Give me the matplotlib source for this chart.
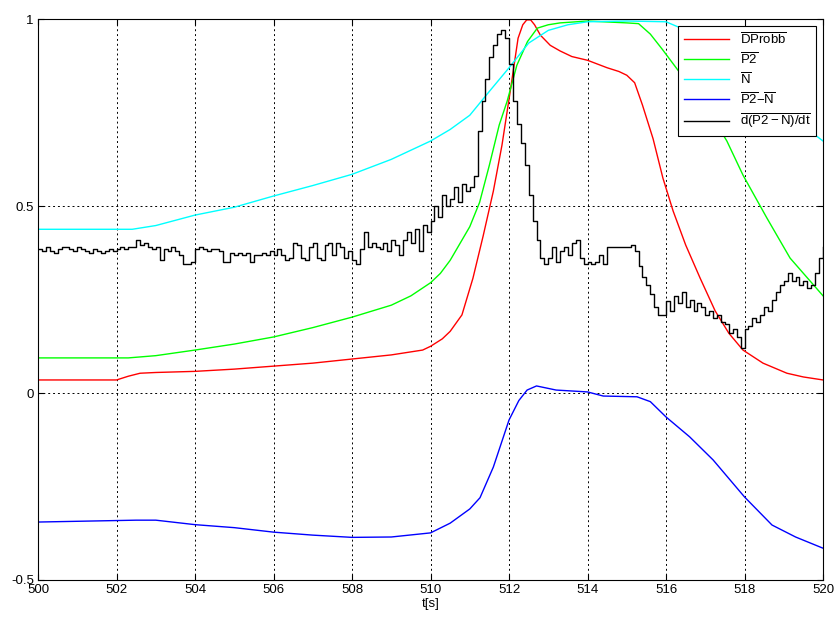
import numpy as np
import matplotlib
matplotlib.use("Agg")
import matplotlib.pyplot as plt

plt.rcParams['font.family'] = ['Liberation Sans', 'DejaVu Sans']
plt.rcParams['mathtext.fontset'] = 'custom'
plt.rcParams['mathtext.rm'] = 'Liberation Sans'
plt.rcParams['mathtext.it'] = 'Liberation Sans'
plt.rcParams['mathtext.sf'] = 'Liberation Sans'

# ---- data ----
t_red = [500, 502.0, 502.3, 502.6, 503, 504, 505, 506, 507, 508, 509, 509.8, 510, 510.3, 510.5,
         510.8, 511.08, 511.34, 511.6, 511.82, 512.03, 512.23, 512.35, 512.45, 512.55, 512.65, 512.8,
         513.05, 513.3, 513.6, 514.0, 514.5, 514.8, 515.0, 515.2, 515.4, 515.67, 515.92, 516.18,
         516.5, 516.87, 517.25, 517.6, 517.96, 518.47, 519.08, 519.5, 520]
dprobb = [0.035, 0.035, 0.045, 0.053, 0.055, 0.058, 0.064, 0.072, 0.080, 0.091, 0.102, 0.115, 0.125,
          0.145, 0.165, 0.209, 0.307, 0.42, 0.54, 0.663, 0.807, 0.949, 0.985, 0.998, 0.998, 0.985,
          0.957, 0.93, 0.915, 0.90, 0.89, 0.87, 0.86, 0.85, 0.83, 0.77, 0.68, 0.575, 0.487, 0.396,
          0.307, 0.22, 0.16, 0.115, 0.08, 0.053, 0.043, 0.035]

t_green = [500, 502.3, 503, 504, 505, 506, 507, 508, 509, 509.5, 510, 510.25, 510.5, 510.75, 511,
           511.25, 511.5, 511.75, 511.95, 512.2, 512.47, 512.72, 513.0, 513.3, 514, 515.0, 515.3,
           515.6, 515.9, 516.4, 517.2, 517.55, 517.96, 518.57, 519.16, 520]
p2 = [0.094, 0.094, 0.10, 0.115, 0.131, 0.15, 0.175, 0.203, 0.235, 0.26, 0.295, 0.32, 0.355, 0.40,
      0.445, 0.51, 0.61, 0.717, 0.78, 0.877, 0.94, 0.976, 0.985, 0.99, 0.995, 0.99, 0.988, 0.96,
      0.92, 0.85, 0.735, 0.674, 0.583, 0.468, 0.361, 0.26]

t_cyan = [500, 502.4, 503, 504, 505, 506, 507, 508, 509, 510, 510.5, 511, 511.5, 512, 512.5, 513,
          513.5, 514, 515, 516, 516.4, 517, 518, 519, 520]
n_bar = [0.438, 0.438, 0.448, 0.476, 0.497, 0.527, 0.555, 0.585, 0.625, 0.674, 0.705, 0.743, 0.807,
         0.87, 0.936, 0.97, 0.985, 0.993, 0.995, 0.993, 0.975, 0.93, 0.84, 0.755, 0.674]

t_blue = [500, 502.5, 503, 504, 505, 506, 507, 508, 509, 510, 510.5, 511, 511.26, 511.6, 512.0,
          512.25, 512.46, 512.7, 513.2, 514.0, 514.4, 515.26, 515.6, 516.0, 516.6, 517.2, 518.0,
          518.7, 519.3, 520]
p2_minus_n = [-0.345, -0.34, -0.34, -0.352, -0.36, -0.372, -0.38, -0.386, -0.385, -0.374, -0.348,
              -0.31, -0.28, -0.198, -0.072, -0.02, 0.008, 0.019, 0.008, 0.003, -0.008, -0.01, -0.023,
              -0.064, -0.117, -0.179, -0.278, -0.353, -0.385, -0.415]

t_black = np.linspace(500, 520, 201)
d_dt = [
    0.385, 0.38, 0.39, 0.38, 0.375, 0.385, 0.39, 0.39, 0.385, 0.38,
    0.39, 0.385, 0.38, 0.375, 0.385, 0.38, 0.375, 0.38, 0.385, 0.38,
    0.385, 0.39, 0.385, 0.39, 0.39, 0.41, 0.395, 0.40, 0.39, 0.385,
    0.39, 0.355, 0.385, 0.38, 0.39, 0.38, 0.37, 0.345, 0.345, 0.35,
    0.385, 0.39, 0.385, 0.38, 0.385, 0.385, 0.38, 0.35, 0.35, 0.375,
    0.37, 0.375, 0.37, 0.375, 0.35, 0.37, 0.37, 0.375, 0.37, 0.38,
    0.37, 0.385, 0.37, 0.355, 0.36, 0.40, 0.395, 0.36, 0.355, 0.39,
    0.40, 0.36, 0.355, 0.395, 0.40, 0.37, 0.40, 0.39, 0.36, 0.38,
    0.355, 0.345, 0.385, 0.43, 0.39, 0.40, 0.39, 0.385, 0.40, 0.38,
    0.41, 0.395, 0.37, 0.41, 0.43, 0.40, 0.44, 0.38, 0.45, 0.43,
    0.46, 0.50, 0.47, 0.53, 0.50, 0.52, 0.55, 0.51, 0.56, 0.54,
    0.55, 0.58, 0.70, 0.78, 0.84, 0.90, 0.93, 0.96, 0.97, 0.95,
    0.88, 0.78, 0.72, 0.67, 0.61, 0.53, 0.46, 0.41, 0.36, 0.345,
    0.36, 0.39, 0.35, 0.38, 0.39, 0.37, 0.40, 0.41, 0.36, 0.345,
    0.35, 0.345, 0.35, 0.37, 0.345, 0.39, 0.39, 0.39, 0.39, 0.39,
    0.39, 0.395, 0.38, 0.34, 0.31, 0.29, 0.265, 0.23, 0.21, 0.21,
    0.245, 0.22, 0.26, 0.24, 0.27, 0.23, 0.25, 0.22, 0.24, 0.23,
    0.21, 0.22, 0.20, 0.21, 0.19, 0.185, 0.16, 0.17, 0.15, 0.12,
    0.17, 0.18, 0.20, 0.19, 0.21, 0.23, 0.22, 0.25, 0.27, 0.29,
    0.30, 0.32, 0.30, 0.31, 0.29, 0.30, 0.28, 0.29, 0.32, 0.36,
    0.39]

x_ticks = list(range(500, 521, 2))
y_ticks = [-0.5, 0, 0.5, 1]
y_ticklabels = ['-0.5', '0', '0.5', '1']
labels = [r'$\overline{\mathrm{DProbb}}$', r'$\overline{\mathrm{P2}}$', r'$\overline{\mathrm{N}}$',
          r'$\overline{\mathrm{P2}}\mathrm{-}\overline{\mathrm{N}}$', r'$\overline{\mathrm{d(P2-N)/dt}}$']

# ---- plot ----
fig = plt.figure(figsize=(8.36, 6.18), dpi=100)
ax = fig.add_axes([0.0455, 0.0615, 0.939, 0.9075])

ax.plot(t_red, dprobb, color='#ff0000', lw=1.0, label=labels[0])
ax.plot(t_green, p2, color='#00ff00', lw=1.0, label=labels[1])
ax.plot(t_cyan, n_bar, color='#00ffff', lw=1.0, label=labels[2])
ax.plot(t_blue, p2_minus_n, color='#0000ff', lw=1.0, label=labels[3])
ax.plot(t_black, d_dt, color='black', lw=1.0, drawstyle='steps-post', label=labels[4])

ax.set_xlim(500, 520)
ax.set_ylim(-0.5, 1)
ax.set_xticks(x_ticks)
ax.set_xticklabels([str(v) for v in x_ticks])
ax.set_yticks(y_ticks)
ax.set_yticklabels(y_ticklabels)
ax.tick_params(direction='in', labelsize=9.5, length=4, top=True, right=True, pad=3)
ax.grid(True, color='black', linestyle=(0, (2, 3)), lw=0.7)
ax.set_xlabel('t[s]', fontsize=9.5, labelpad=1)
for s in ax.spines.values():
    s.set_linewidth(0.8)

leg = ax.legend(loc='upper right', fontsize=9.5, fancybox=False, framealpha=1, edgecolor='black',
                borderaxespad=0.5, handlelength=3.4, labelspacing=0.35, borderpad=0.45)
leg.get_frame().set_linewidth(0.8)

fig.savefig('out.png', dpi=100)
